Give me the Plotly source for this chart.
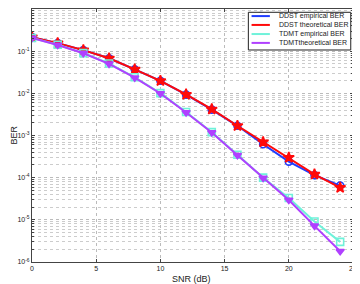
import plotly.graph_objects as go

snr = [0, 2, 4, 6, 8, 10, 12, 14, 16, 18, 20, 22, 24]
ddst_emp = [0.215, 0.155, 0.106, 0.068, 0.037, 0.0198, 0.0093, 0.0041, 0.0017, 6.2e-4, 2.4e-4, 1.15e-4, 6.5e-5]
ddst_th = [0.215, 0.155, 0.106, 0.068, 0.037, 0.0198, 0.0094, 0.0042, 0.0017, 7.0e-4, 3.0e-4, 1.2e-4, 5.8e-5]
tdmt_emp = [0.205, 0.142, 0.09, 0.051, 0.024, 0.0101, 0.0036, 0.0012, 3.5e-4, 1.0e-4, 3.3e-5, 9.1e-6, 3.0e-6]
tdmt_th = [0.205, 0.14, 0.089, 0.05, 0.0235, 0.0099, 0.0035, 0.00118, 3.4e-4, 9.8e-5, 2.95e-5, 7.2e-6, 1.8e-6]
names = ["DDST empirical BER", "DDST theoretical BER", "TDMT empirical BER", "TDMTtheoretical BER"]

ytick_vals = [1e0, 1e-1, 1e-2, 1e-3, 1e-4, 1e-5, 1e-6]
ytick_text = ["10<sup>0</sup>", "10<sup>-1</sup>", "10<sup>-2</sup>", "10<sup>-3</sup>",
              "10<sup>-4</sup>", "10<sup>-5</sup>", "10<sup>-6</sup>"]
xtick_vals = [0, 5, 10, 15, 20, 25]

minor_vals = [m * 10.0 ** e for e in range(-6, 0) for m in range(2, 10)]

colors = ["#1f3cff", "#ff0a0a", "#6ff2da", "#b040ff"]
symbols = ["circle-open", "star", "square-open", "triangle-down"]
msizes = [7, 8, 7, 7]
series = [ddst_emp, ddst_th, tdmt_emp, tdmt_th]

fig = go.Figure()
for s, nm, c, sym, ms in zip(series, names, colors, symbols, msizes):
    fig.add_trace(go.Scatter(x=snr, y=s, name=nm, mode="lines+markers",
                             line=dict(color=c, width=2),
                             marker=dict(symbol=sym, size=ms, color=c, line=dict(width=1.6, color=c)),
                             showlegend=False))

# manual compact legend (layout positions in paper fraction)
leg_x0, leg_x1, leg_y0, leg_y1 = 0.674, 0.993, 0.838, 0.987
item_y = [0.972, 0.937, 0.901, 0.866]
line_x0, line_x1, mark_x, text_x = 0.684, 0.741, 0.713, 0.762

shapes = [dict(type="rect", xref="paper", yref="paper", x0=leg_x0, x1=leg_x1, y0=leg_y0, y1=leg_y1,
               line=dict(color="#222", width=1), fillcolor="white", layer="above")]
annotations = []
for nm, c, yy in zip(names, colors, item_y):
    shapes.append(dict(type="line", xref="paper", yref="paper", x0=line_x0, x1=line_x1, y0=yy, y1=yy,
                       line=dict(color=c, width=2), layer="above"))
    annotations.append(dict(text=nm, xref="paper", yref="paper", x=text_x, y=yy, xanchor="left",
                            yanchor="middle", showarrow=False, font=dict(size=7, color="#222")))
fig.add_trace(go.Scatter(x=[mark_x] * 4, y=item_y, mode="markers", xaxis="x2", yaxis="y2",
                         marker=dict(symbol=symbols, size=msizes, color=colors,
                                     line=dict(width=1.6, color=colors)),
                         showlegend=False, hoverinfo="skip"))

annotations.append(dict(text="SNR (dB)", xref="paper", yref="paper", x=0.498, y=-0.066,
                        xanchor="center", yanchor="middle", showarrow=False, font=dict(size=9, color="#222")))
annotations.append(dict(text="BER", xref="paper", yref="paper", x=-0.059, y=0.5, textangle=-90,
                        xanchor="center", yanchor="middle", showarrow=False, font=dict(size=9, color="#222")))

# page body has an 8px margin, so the figure is sized/offset to compensate
fig.update_layout(
    width=352, height=276,
    margin=dict(l=24, r=7, t=1, b=22, autoexpand=False),
    paper_bgcolor="white", plot_bgcolor="white",
    font=dict(family="Liberation Sans, Arial, sans-serif", size=7, color="#222"),
    showlegend=False,
    shapes=shapes, annotations=annotations,
    xaxis2=dict(overlaying="x", range=[0, 1], visible=False, anchor="y2"),
    yaxis2=dict(overlaying="y", range=[0, 1], visible=False, anchor="x2"),
)
fig.layout.xaxis.update(range=[0, 25], tickvals=xtick_vals, ticks="inside", ticklen=3,
                        showline=True, linecolor="#444", linewidth=1, mirror="ticks",
                        showgrid=True, gridcolor="#bbb", griddash="dot", gridwidth=1,
                        zeroline=False, automargin=False)
fig.layout.yaxis.update(type="log", range=[-6, 0], tickvals=ytick_vals, ticktext=ytick_text,
                        ticks="inside", ticklen=3,
                        showline=True, linecolor="#444", linewidth=1, mirror="ticks",
                        showgrid=True, gridcolor="#bbb", griddash="dot", gridwidth=1,
                        minor=dict(tickvals=minor_vals, showgrid=True, gridcolor="#ccc",
                                   griddash="dot", ticks="inside", ticklen=2),
                        automargin=False)

fig.write_html("out.html")
